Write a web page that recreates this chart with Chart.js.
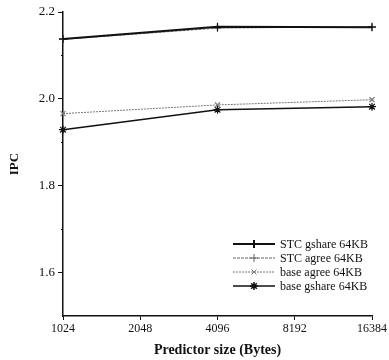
<!DOCTYPE html>
<html>
<head>
<meta charset="utf-8">
<script src="https://cdn.jsdelivr.net/npm/chart.js@4/dist/chart.umd.min.js"></script>
<style>
  html, body { margin: 0; padding: 0; background: #fff; }
  #wrap { width: 389px; height: 360px; }
</style>
</head>
<body>
<div id="wrap"><canvas id="ipcChart" width="389" height="360"></canvas></div>
<script>
// predictor sizes in bytes (evenly spaced, log2)
const sizes = ['1024', '2048', '4096', '8192', '16384'];
const seriesNames = ['STC gshare 64KB', 'STC agree 64KB', 'base agree 64KB', 'base gshare 64KB'];
// only 1024, 4096 and 16384 were measured
const stcGshare = [2.138, null, 2.166, null, 2.165];
const stcAgree = [2.137, null, 2.163, null, 2.166];
const baseAgree = [1.966, null, 1.986, null, 1.998];
const baseGshare = [1.929, null, 1.975, null, 1.982];
const yTicks = [1.5, 1.6, 1.7, 1.8, 1.9, 2.0, 2.1, 2.2];
const yLabelled = [1.6, 1.8, 2.0, 2.2];

const serif = '"Liberation Serif", "Times New Roman", serif';

function isLabelled(v) {
    return yLabelled.some(l => Math.abs(l - v) < 1e-6);
}

// legend drawn inside the plot, lower right
const innerLegend = {
    id: 'innerLegend',
    afterDatasetsDraw(chart) {
        const ctx = chart.ctx;
        const x0 = 233, x1 = 275, y0 = 244, step = 14;
        ctx.save();
        chart.data.datasets.forEach((ds, i) => {
            const y = y0 + i * step;
            ctx.strokeStyle = ds.borderColor;
            ctx.lineWidth = ds.borderWidth;
            ctx.setLineDash(ds.borderDash || []);
            ctx.beginPath();
            ctx.moveTo(x0, y);
            ctx.lineTo(x1, y);
            ctx.stroke();
            ctx.setLineDash([]);
            Chart.helpers.drawPoint(ctx, {
                pointStyle: ds.pointStyle,
                radius: ds.pointRadius,
                borderWidth: ds.pointBorderWidth || 1
            }, (x0 + x1) / 2, y);
            ctx.fillStyle = '#111';
            ctx.font = '12px ' + serif;
            ctx.textBaseline = 'middle';
            ctx.textAlign = 'left';
            ctx.fillText(ds.label, x1 + 5, y + 1);
        });
        ctx.restore();
    }
};

// short minor ticks on the y axis
const minorTicks = {
    id: 'minorTicks',
    afterDraw(chart) {
        const y = chart.scales.y;
        const ctx = chart.ctx;
        ctx.save();
        ctx.strokeStyle = '#111';
        ctx.lineWidth = 1;
        yTicks.forEach(v => {
            if (isLabelled(v) || v < 1.55) return;
            const py = Math.round(y.getPixelForValue(v)) + 0.5;
            ctx.beginPath();
            ctx.moveTo(chart.chartArea.left - 2, py);
            ctx.lineTo(chart.chartArea.left, py);
            ctx.stroke();
        });
        ctx.restore();
    }
};

function makeSet(label, data, color, width, dash, style, radius) {
    return {
        label: label,
        data: data,
        borderColor: color,
        backgroundColor: color,
        borderWidth: width,
        borderDash: dash,
        pointStyle: style,
        pointRadius: radius,
        pointBorderColor: color,
        pointBorderWidth: 1.2,
        spanGaps: true,
        tension: 0
    };
}

new Chart(document.getElementById('ipcChart').getContext('2d'), {
    type: 'line',
    data: {
        labels: sizes,
        datasets: [
            makeSet(seriesNames[0], stcGshare, '#111', 2, [], 'cross', 4),
            makeSet(seriesNames[1], stcAgree, '#666', 1, [3, 1], 'cross', 4),
            makeSet(seriesNames[2], baseAgree, '#777', 1, [2, 1], 'crossRot', 3.5),
            makeSet(seriesNames[3], baseGshare, '#111', 1.5, [], 'star', 4)
        ]
    },
    options: {
        responsive: false,
        animation: false,
        layout: { padding: { top: 12, right: 17, left: 0, bottom: 0 } },
        plugins: {
            legend: { display: false },
            tooltip: { enabled: false }
        },
        scales: {
            x: {
                offset: false,
                border: { display: true, color: '#111', width: 1.5 },
                grid: { drawOnChartArea: false, drawTicks: true, tickLength: 4, color: '#111' },
                ticks: {
                    color: '#111',
                    padding: 2,
                    maxRotation: 0,
                    font: { family: serif, size: 12 }
                },
                title: {
                    display: true,
                    text: 'Predictor size (Bytes)',
                    color: '#111',
                    padding: { top: 2, bottom: 1 },
                    font: { family: serif, size: 14, weight: 'bold' }
                },
                afterFit(scale) { scale.height = 44; }
            },
            y: {
                min: 1.5,
                max: 2.2,
                border: { display: true, color: '#111', width: 1.5 },
                afterBuildTicks(scale) {
                    scale.ticks = yTicks.map(v => ({ value: v }));
                },
                grid: {
                    drawOnChartArea: false,
                    drawTicks: true,
                    tickLength: 5,
                    color: ctx => (ctx.tick && isLabelled(ctx.tick.value)) ? '#111' : 'rgba(0,0,0,0)'
                },
                ticks: {
                    color: '#111',
                    padding: 3,
                    font: { family: serif, size: 13 },
                    callback: v => isLabelled(v) ? v.toFixed(1) : ''
                },
                title: {
                    display: true,
                    text: 'IPC',
                    color: '#111',
                    padding: { top: 7, bottom: 0 },
                    font: { family: serif, size: 13, weight: 'bold' }
                },
                afterFit(scale) { scale.width = 63; }
            }
        }
    },
    plugins: [innerLegend, minorTicks]
});
</script>
</body>
</html>
